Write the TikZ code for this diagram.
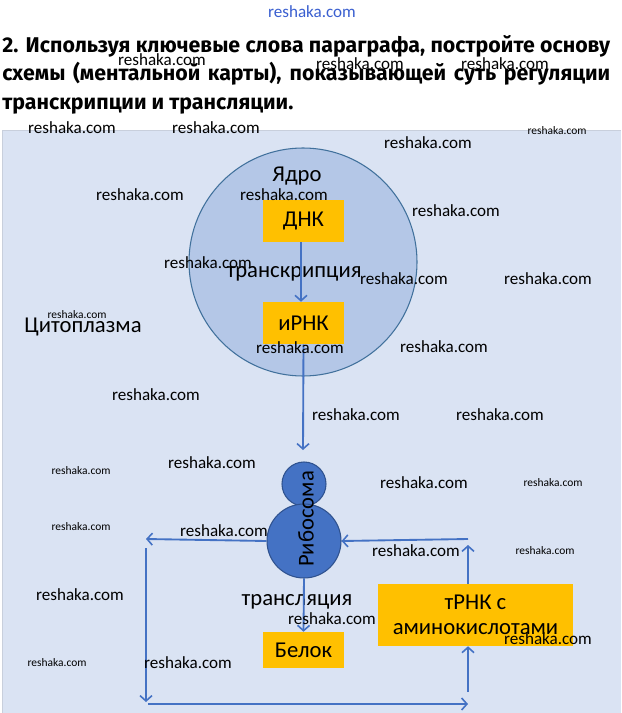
\documentclass[tikz,border=0pt]{standalone}
\usepackage{fontspec}
\setmainfont{Carlito}
\newfontfamily\titlefont{Fira Sans}
\usetikzlibrary{arrows.meta}
\definecolor{panel}{HTML}{DAE3F3}
\definecolor{nucfill}{HTML}{B4C7E7}
\definecolor{nucdraw}{HTML}{41719C}
\definecolor{ribfill}{HTML}{4472C4}
\definecolor{ribdraw}{HTML}{2F528F}
\definecolor{boxfill}{HTML}{FFC000}
\definecolor{arrcol}{HTML}{4472C4}
\definecolor{wmblue}{HTML}{3A5FD0}
\tikzset{
  lbl/.style={font=\fontsize{17}{19}\selectfont, text=black, inner sep=0pt},
  obox/.style={fill=boxfill, draw=none, inner sep=0pt, font=\fontsize{17}{19}\selectfont},
  arr/.style={draw=arrcol, line width=1.4pt, -{Straight Barb[length=4pt,width=9pt,line width=1.2pt]}},
  wm/.style={font=\fontsize{12.8}{14}\selectfont, text=black, inner sep=0pt},
  wms/.style={font=\fontsize{8.6}{10}\selectfont, text=black, inner sep=0pt},
  ttl/.style={font=\titlefont\bfseries\fontsize{16}{19}\selectfont, anchor=base west, inner sep=0pt}
}
\begin{document}
\begin{tikzpicture}[x=0.75pt,y=-0.75pt]
\useasboundingbox (0,0) rectangle (621,713);
\fill[white] (0,0) rectangle (621,713);
\fill[panel] (2,130) rectangle (621,713);
\draw[panel!80!gray, line width=0.4pt] (2,713) -- (2,130) -- (621,130);
% title
\node[ttl] (t1) at (2,53) {\makebox[456pt][s]{2. Используя ключевые слова параграфа, постройте основу}};
\node[ttl] (t2) at (2,81) {\makebox[456pt][s]{схемы (ментальной карты), показывающей суть регуляции}};
\node[ttl] (t3) at (2,110) {транскрипции и трансляции.};
% nucleus
\node[circle, fill=nucfill, draw=nucdraw, line width=0.8pt, minimum size=171pt, inner sep=0pt] (nuc) at (303,262) {};
\node[lbl] (yadro) at (297,176) {Ядро};
\node[obox, minimum width=60.75pt, minimum height=31.5pt] (dnk) at (303.5,221) {ДНК};
\node[obox, minimum width=60.75pt, minimum height=31.5pt] (irnk) at (303.5,323) {иРНК};
\node[lbl] (transcr) at (294,274) {транскрипция};
\node[lbl] (cyto) at (83,327) {Цитоплазма};
\draw[arr] (dnk.south -| 301,0) -- (irnk.north -| 301,0);
\coordinate (dn) at (303,450);
\draw[arr] (irnk.south) -- (dn);
% ribosome
\node[circle, fill=ribfill, draw=ribdraw, line width=0.8pt, minimum size=33pt, inner sep=0pt] (ribs) at (304,484) {};
\node[circle, fill=ribfill, draw=ribdraw, line width=0.8pt, minimum size=55.5pt, inner sep=0pt] (rib) at (304,541) {};
\node[lbl, rotate=90] (ribtxt) at (306,519) {Рибосома};
\node[obox, minimum width=60.75pt, minimum height=27pt] (belok) at (303.5,650) {Белок};
\node[lbl] (transl) at (297,602) {трансляция};
\draw[arr] (rib.south) -- (belok.north);
\node[obox, minimum width=146.25pt, minimum height=46.5pt, align=center] (trna) at (475.5,615) {тРНК с\\аминокислотами};
% loop connectors
\coordinate (L1) at (146,539);
\coordinate (L2) at (146,548);
\coordinate (L3) at (146,702);
\coordinate (L4) at (148,704);
\coordinate (R1) at (468,704);
\coordinate (R2) at (468,692);
\coordinate (R3) at (468,545);
\coordinate (R4) at (468,539);
\draw[arr] (rib.west) -- (L1);
\draw[arr] (L2) -- (L3);
\draw[arr] (L4) -- (R1);
\draw[arr] (R2) -- (trna.south -| R2);
\draw[arr] (trna.north -| R2) -- (R3);
\draw[arr] (R4) -- (rib.east);
% watermarks
\node[font=\fontsize{12.8}{14}\selectfont, text=wmblue, inner sep=0pt] (w0) at (312,12) {reshaka.com};
\node[wm] (w1) at (162,60) {reshaka.com};
\node[wm] (w2) at (360,64) {reshaka.com};
\node[wm] (w3) at (505,64) {reshaka.com};
\node[wm] (w4) at (72,128) {reshaka.com};
\node[wm] (w5) at (216,128) {reshaka.com};
\node[wms] (w6) at (557,131) {reshaka.com};
\node[wm] (w7) at (428,143) {reshaka.com};
\node[wm] (w8) at (140,195) {reshaka.com};
\node[wm] (w9) at (284,195) {reshaka.com};
\node[wm] (w10) at (456,211) {reshaka.com};
\node[wm] (w11) at (208,263) {reshaka.com};
\node[wm] (w12) at (404,279) {reshaka.com};
\node[wm] (w13) at (548,279) {reshaka.com};
\node[wms] (w14) at (77,315) {reshaka.com};
\node[wm] (w15) at (300,348) {reshaka.com};
\node[wm] (w16) at (444,347) {reshaka.com};
\node[wm] (w17) at (156,395) {reshaka.com};
\node[wm] (w18) at (356,415) {reshaka.com};
\node[wm] (w19) at (500,415) {reshaka.com};
\node[wms] (w20) at (81,471) {reshaka.com};
\node[wm] (w21) at (212,463) {reshaka.com};
\node[wm] (w22) at (424,483) {reshaka.com};
\node[wms] (w23) at (553,483) {reshaka.com};
\node[wms] (w24) at (81,527) {reshaka.com};
\node[wm] (w25) at (224,531) {reshaka.com};
\node[wm] (w26) at (416,551) {reshaka.com};
\node[wms] (w27) at (545,551) {reshaka.com};
\node[wm] (w28) at (80,595) {reshaka.com};
\node[wm] (w29) at (332,619) {reshaka.com};
\node[wm] (w30) at (548,639) {reshaka.com};
\node[wms] (w31) at (57,663) {reshaka.com};
\node[wm] (w32) at (188,663) {reshaka.com};
\end{tikzpicture}
\end{document}
